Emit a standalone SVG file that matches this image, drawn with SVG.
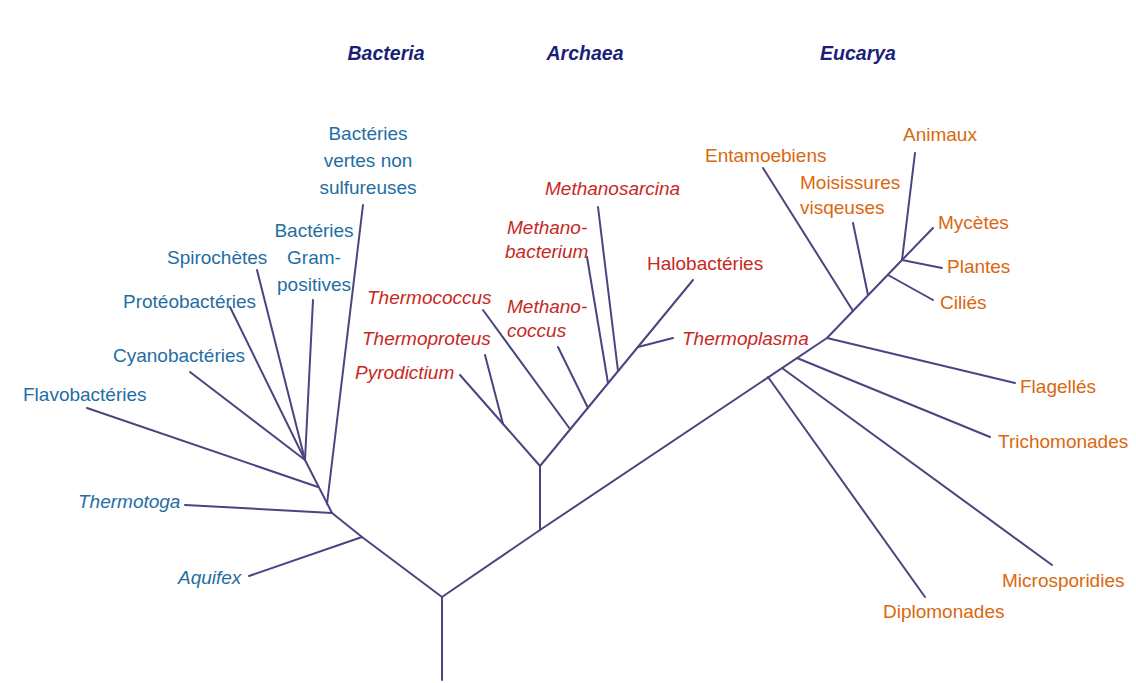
<svg xmlns="http://www.w3.org/2000/svg" width="1136" height="683" viewBox="0 0 1136 683">
<style>
.e{fill:none;stroke:#4a4580;stroke-width:2;stroke-linecap:round;stroke-linejoin:round}
text{font-family:"Liberation Sans",Arial,Helvetica,sans-serif;font-size:19px}
.b{fill:#1f6ea3}
.a{fill:#c8281e}
.u{fill:#d9680f}
.i{font-style:italic}
.h{fill:#1c1f7a;font-weight:bold;font-style:italic;font-size:19.5px;text-anchor:middle}
.m{text-anchor:middle}
</style>
<rect width="1136" height="683" fill="#ffffff"/>
<g id="connectors">
<path class="e" d="M442,680 L442,597 L362,537 L332,513 L305,460"/>
<path class="e" d="M362,537 L249,576"/>
<path class="e" d="M332,513 L185,505"/>
<path class="e" d="M327,504 L363,205"/>
<path class="e" d="M318,487 L87,408"/>
<path class="e" d="M305,460 L190,372"/>
<path class="e" d="M305,460 L230,307"/>
<path class="e" d="M305,460 L257,270"/>
<path class="e" d="M305,460 L313,300"/>
<path class="e" d="M442,597 L540,530 L540,466 L460,375"/>
<path class="e" d="M485,355 L503,424"/>
<path class="e" d="M540,466 L693,280"/>
<path class="e" d="M483,310 L570,429"/>
<path class="e" d="M558,347 L588,408"/>
<path class="e" d="M587,257 L608,383"/>
<path class="e" d="M598,207 L618,371"/>
<path class="e" d="M673,338 L638,347"/>
<path class="e" d="M540,530 L827,338 L902,260"/>
<path class="e" d="M768,377 L925,597"/>
<path class="e" d="M782,368 L1052,565"/>
<path class="e" d="M797,358 L990,437"/>
<path class="e" d="M827,338 L1015,383"/>
<path class="e" d="M763,168 L853,311"/>
<path class="e" d="M853,223 L868,295"/>
<path class="e" d="M888,275 L933,300"/>
<path class="e" d="M902,260 L942,268"/>
<path class="e" d="M902,260 L933,228"/>
<path class="e" d="M902,260 L915,153"/>
</g>
<g id="head-bacteria"><text class="h" x="386" y="60">Bacteria</text></g>
<g id="head-archaea"><text class="h" x="585" y="60">Archaea</text></g>
<g id="head-eucarya"><text class="h" x="858" y="60">Eucarya</text></g>
<g id="n-vertes"><text class="b m" x="368" y="140">Bactéries</text><text class="b m" x="368" y="167">vertes non</text><text class="b m" x="368" y="194">sulfureuses</text></g>
<g id="n-gram"><text class="b m" x="314" y="237">Bactéries</text><text class="b m" x="314" y="264">Gram-</text><text class="b m" x="314" y="291">positives</text></g>
<g id="n-spiro"><text class="b" x="167" y="264">Spirochètes</text></g>
<g id="n-proteo"><text class="b" x="123" y="308">Protéobactéries</text></g>
<g id="n-cyano"><text class="b" x="113" y="362">Cyanobactéries</text></g>
<g id="n-flavo"><text class="b" x="23" y="401">Flavobactéries</text></g>
<g id="n-thermotoga"><text class="b i" x="78" y="508">Thermotoga</text></g>
<g id="n-aquifex"><text class="b i" x="178" y="584">Aquifex</text></g>
<g id="n-methanosarcina"><text class="a i" x="545" y="195">Methanosarcina</text></g>
<g id="n-methanobacterium"><text class="a i" x="507" y="234">Methano-</text><text class="a i" x="505" y="258">bacterium</text></g>
<g id="n-halo"><text class="a" x="647" y="270">Halobactéries</text></g>
<g id="n-thermococcus"><text class="a i" x="367" y="304">Thermococcus</text></g>
<g id="n-methanococcus"><text class="a i" x="507" y="313">Methano-</text><text class="a i" x="507" y="337">coccus</text></g>
<g id="n-thermoproteus"><text class="a i" x="362" y="345">Thermoproteus</text></g>
<g id="n-pyrodictium"><text class="a i" x="355" y="379">Pyrodictium</text></g>
<g id="n-thermoplasma"><text class="a i" x="682" y="345">Thermoplasma</text></g>
<g id="n-entamoebiens"><text class="u" x="705" y="162">Entamoebiens</text></g>
<g id="n-moisissures"><text class="u" x="800" y="189">Moisissures</text><text class="u" x="800" y="214">visqeuses</text></g>
<g id="n-animaux"><text class="u" x="903" y="141">Animaux</text></g>
<g id="n-mycetes"><text class="u" x="938" y="229">Mycètes</text></g>
<g id="n-plantes"><text class="u" x="947" y="273">Plantes</text></g>
<g id="n-cilies"><text class="u" x="940" y="309">Ciliés</text></g>
<g id="n-flagelles"><text class="u" x="1020" y="393">Flagellés</text></g>
<g id="n-trichomonades"><text class="u" x="998" y="448">Trichomonades</text></g>
<g id="n-microsporidies"><text class="u" x="1002" y="587">Microsporidies</text></g>
<g id="n-diplomonades"><text class="u" x="883" y="618">Diplomonades</text></g>
</svg>
